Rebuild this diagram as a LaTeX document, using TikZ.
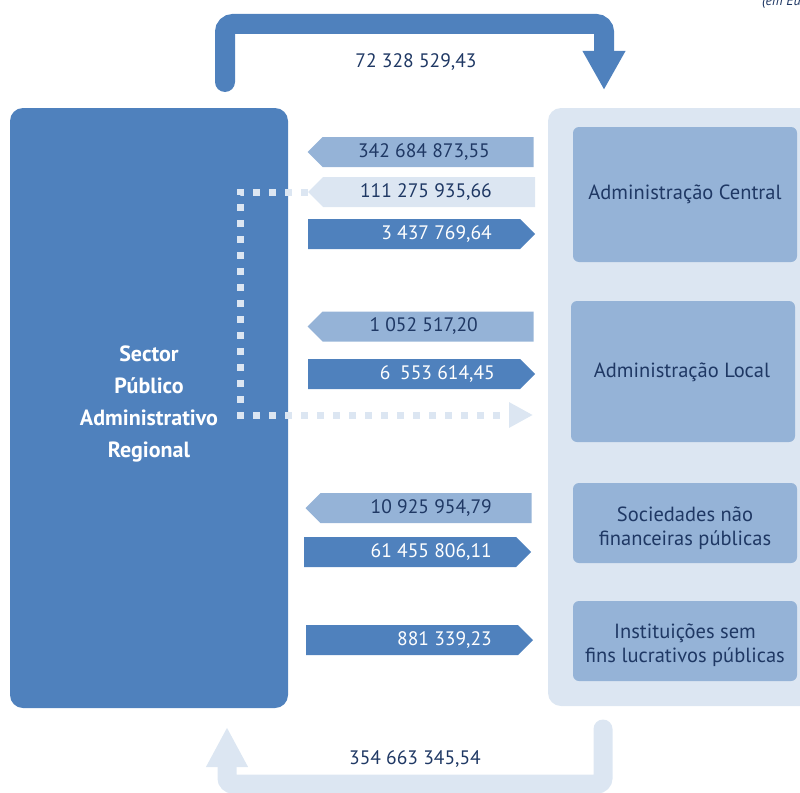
\documentclass[tikz,border=0pt]{standalone}
\usepackage{fontspec}
\setmainfont{PT Sans}
\usetikzlibrary{arrows.meta,shapes.symbols}
\definecolor{dblue}{RGB}{79,129,189}
\definecolor{mblue}{RGB}{149,179,215}
\definecolor{lblue}{RGB}{220,230,242}
\definecolor{tnavy}{RGB}{31,56,100}
\tikzset{
  flowarrow/.style={shape=signal, signal from=nowhere, draw=none, inner sep=0pt,
    minimum width=227pt, minimum height=30pt},
  leftarr/.style={flowarrow, signal to=west},
  rightarr/.style={flowarrow, signal to=east},
  numlabel/.style={anchor=east, inner sep=0pt, font=\fontsize{19.5}{22}\selectfont},
  subbox/.style={fill=mblue, rounded corners=6pt, minimum width=224pt, inner sep=0pt},
  subtext/.style={align=center, text=tnavy, font=\fontsize{20.5}{24}\selectfont},
}
\begin{document}
\begin{tikzpicture}[x=1pt,y=-1pt]
\useasboundingbox (0,0) rectangle (800,792);
\clip (0,0) rectangle (800,792);

% (em Euros)
\node[anchor=base west, inner sep=0pt, text=tnavy, font=\itshape\fontsize{14}{16}\selectfont] (unit) at (762,6) {(em Euros)};

% big boxes
\node[fill=dblue, rounded corners=13pt, minimum width=278pt, minimum height=600pt, inner sep=0pt] (lbox) at (149,408) {};
\node[fill=lblue, rounded corners=13pt, minimum width=282pt, minimum height=598pt, inner sep=0pt] (rbox) at (689,407) {};
\node[align=center, text=white, font=\bfseries\fontsize{22}{32}\selectfont] (ltext) at (149,404) {Sector\\Público\\Administrativo\\Regional};

% sub boxes
\node[subbox, minimum height=135pt] (b1) at (685,194.5) {};
\node[subbox, minimum height=141pt] (b2) at (683,371.5) {};
\node[subbox, minimum height=80pt] (b3) at (685,523) {};
\node[subbox, minimum height=80pt] (b4) at (685,641) {};
\node[subtext] (t1) at (685,194) {Administração Central};
\node[subtext] (t2) at (682,372) {Administração Local};
\node[subtext] (t3) at (685,528) {Sociedades não\\financeiras públicas};
\node[subtext] (t4) at (685,645) {Instituições sem\\fins lucrativos públicas};

% flow arrows (center = centre of the rectangular body)
\node[leftarr, fill=mblue, minimum width=226pt] (a1) at (428,152) {};
\node[leftarr, fill=lblue] (a2) at (429,192) {};
\node[rightarr, fill=dblue] (a3) at (414,234) {};
\node[leftarr, fill=mblue, minimum width=226pt] (a4) at (428,326.5) {};
\node[rightarr, fill=dblue] (a5) at (414,374) {};
\node[leftarr, fill=mblue, minimum width=226pt] (a6) at (426,508) {};
\node[rightarr, fill=dblue] (a7) at (410,552) {};
\node[rightarr, fill=dblue] (a8) at (412,640) {};

\node[numlabel, text=tnavy] (l1) at (490,152) {342 684 873,55};
\node[numlabel, text=tnavy] (l2) at (492,192) {111 275 935,66};
\node[numlabel, text=white] (l3) at (492,234) {3 437 769,64};
\node[numlabel, text=tnavy] (l4) at (478,326.5) {1 052 517,20};
\node[numlabel, text=white] (l5) at (495,374) {6\hspace{0.5em}553 614,45};
\node[numlabel, text=tnavy] (l6) at (492,508) {10 925 954,79};
\node[numlabel, text=white] (l7) at (492,552) {61 455 806,11};
\node[numlabel, text=white] (l8) at (492,640) {881 339,23};

% dotted connector
\coordinate (dc) at (240,415);
\coordinate (dend) at (533,415);
\draw[lblue, line width=7pt, dash pattern=on 7pt off 9pt,
  -{Triangle[width=24pt,length=24pt]}] (a2.west) -| (dc) -- (dend);

% top arrow
\coordinate (ts) at (225,82);
\coordinate (te) at (604,90);
\draw[dblue, line width=20pt, line cap=round, rounded corners=8pt,
  -{Triangle[width=40pt,length=39pt]}] (ts) |- (604,24) -- (te);
\node[text=tnavy, font=\fontsize{19.5}{22}\selectfont] (topnum) at (416,62) {72 328 529,43};

% bottom arrow
\coordinate (bs) at (603,729);
\coordinate (be) at (227,727);
\draw[lblue, line width=19pt, line cap=round, rounded corners=6pt,
  -{Triangle[width=39pt,length=40pt]}] (bs) |- (227,784) -- (be);
\node[text=tnavy, font=\fontsize{19.5}{22}\selectfont] (botnum) at (415,759) {354 663 345,54};
\end{tikzpicture}
\end{document}
